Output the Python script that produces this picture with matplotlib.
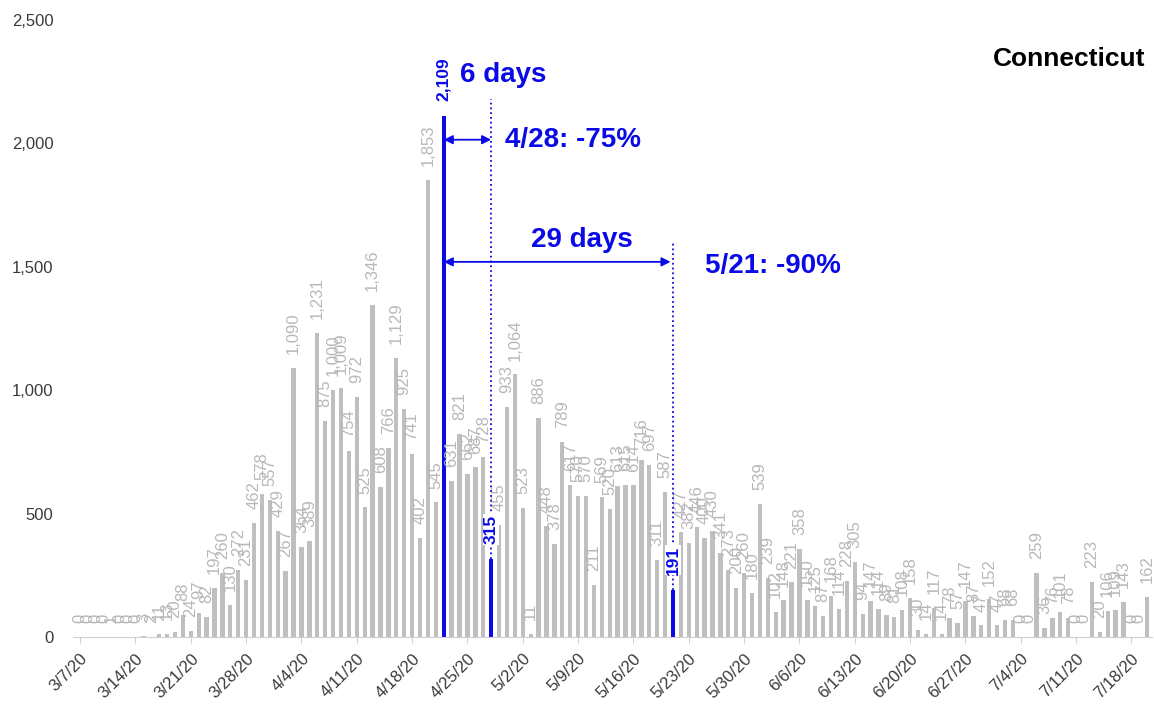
import matplotlib.pyplot as plt
import matplotlib.transforms as mtransforms
import numpy as np
import pandas as pd

# donnees : nouveaux cas quotidiens, Connecticut, a partir du 3/7/20
start = '2020-03-07'
cases = [0, 0, 0, 0, 1, 0, 0, 0, 3, 2,
         11, 13, 20, 88, 24, 97, 82, 197, 260, 130,
         272, 231, 462, 578, 557, 429, 267, 1090, 364, 389,
         1231, 875, 1000, 1009, 754, 972, 525, 1346, 608, 766,
         1129, 925, 741, 402, 1853, 545, 2109, 631, 821, 662,
         687, 728, 315, 455, 933, 1064, 523, 11, 886, 448,
         378, 789, 617, 570, 570, 211, 569, 520, 613, 615,
         614, 716, 697, 311, 587, 191, 427, 382, 446, 400,
         430, 341, 273, 200, 260, 180, 539, 239, 102, 148,
         221, 358, 150, 125, 87, 168, 114, 228, 305, 94,
         147, 114, 89, 81, 108, 158, 30, 14, 117, 14,
         78, 57, 147, 87, 47, 152, 47, 68, 68, 0,
         0, 259, 36, 76, 101, 78, 0, 0, 223, 20,
         106, 109, 143, 0, 0, 162]
# pic, puis les deux jours de reference
highlight = ['2020-04-22', '2020-04-28', '2020-05-21']
tick_labels = ['3/7/20', '3/14/20', '3/21/20', '3/28/20', '4/4/20', '4/11/20',
               '4/18/20', '4/25/20', '5/2/20', '5/9/20', '5/16/20', '5/23/20',
               '5/30/20', '6/6/20', '6/13/20', '6/20/20', '6/27/20', '7/4/20',
               '7/11/20', '7/18/20']
y_ticks = [0, 500, 1000, 1500, 2000, 2500]
state = 'Connecticut'
notes = ['6 days', '4/28: -75%', '29 days', '5/21: -90%']

dates = pd.date_range(start, periods=len(cases), freq='D')
x = np.arange(len(cases))
hi = [dates.get_loc(pd.Timestamp(d)) for d in highlight]

bleu = '#0a0ae6'
gris = '#bfbfbf'
police = ['Liberation Sans', 'DejaVu Sans']
plt.rcParams['font.family'] = police

fig = plt.figure(figsize=(11.54, 7.15), dpi=100)
ax = fig.add_axes([73/1154, 78/715, 1079/1154, 617/715])

couleurs = [bleu if i in hi else gris for i in x]
ax.bar(x, cases, width=0.55, color=couleurs, zorder=2)

# etiquettes des barres
for i, v in zip(x, cases):
    if i in hi:
        ax.annotate(f'{v:,}', (i, v), xytext=(0, 11), textcoords='offset points',
                    rotation=90, ha='center', va='bottom', fontsize=12.5,
                    fontweight='bold', color=bleu, zorder=5,
                    bbox=dict(facecolor='white', edgecolor='none', pad=0.5))
    else:
        ax.annotate(f'{v:,}', (i, v), xytext=(0, 10), textcoords='offset points',
                    rotation=90, ha='center', va='bottom', fontsize=12,
                    color='#b8b8b8', zorder=3)

# lignes pointillees des jours de reference
ax.plot([hi[1], hi[1]], [cases[hi[1]], 2180], ls=':', color=bleu, lw=1.3, zorder=4)
ax.plot([hi[2], hi[2]], [cases[hi[2]], 1600], ls=':', color=bleu, lw=1.3, zorder=4)

# fleches
fl = dict(arrowstyle='<|-|>', color=bleu, lw=1.3, shrinkA=0, shrinkB=0, mutation_scale=13)
ax.annotate('', xy=(hi[0], 2015), xytext=(hi[1], 2015), arrowprops=fl)
ax.annotate('', xy=(hi[0], 1520), xytext=(hi[2] - 0.3, 1520), arrowprops=fl)

ax.text(hi[0] + 2.1, 2279, notes[0], color=bleu, fontsize=20, fontweight='bold', va='center')
ax.text(hi[1] + 1.8, 2015, notes[1], color=bleu, fontsize=20, fontweight='bold', va='center')
ax.text(63.5, 1610, notes[2], color=bleu, fontsize=20, fontweight='bold', va='center', ha='center')
ax.text(hi[2] + 4.1, 1504, notes[3], color=bleu, fontsize=20, fontweight='bold', va='center')
ax.text(134.7, 2340, state, color='black', fontsize=19, fontweight='bold', va='center', ha='right')

# axes
ax.set_xlim(-0.9, 135.6)
ax.set_ylim(0, 2500)
ax.set_yticks(y_ticks)
ax.set_yticklabels([f'{t:,}' for t in y_ticks])
ax.set_xticks(x[::7])
ax.set_xticklabels(tick_labels, rotation=45, ha='right', va='top', rotation_mode='anchor')
decal = mtransforms.ScaledTranslation(6/100, 0, fig.dpi_scale_trans)
for lab in ax.get_xticklabels():
    lab.set_transform(lab.get_transform() + decal)
ax.tick_params(axis='y', length=0, pad=14, labelsize=12, labelcolor='#3a3a3a')
ax.tick_params(axis='x', length=4, color='#d0d0d0', pad=6, labelsize=12, labelcolor='#3a3a3a')
for s in ['top', 'right', 'left']:
    ax.spines[s].set_visible(False)
ax.spines['bottom'].set_color('#d0d0d0')

fig.savefig('out.png', dpi=100)
